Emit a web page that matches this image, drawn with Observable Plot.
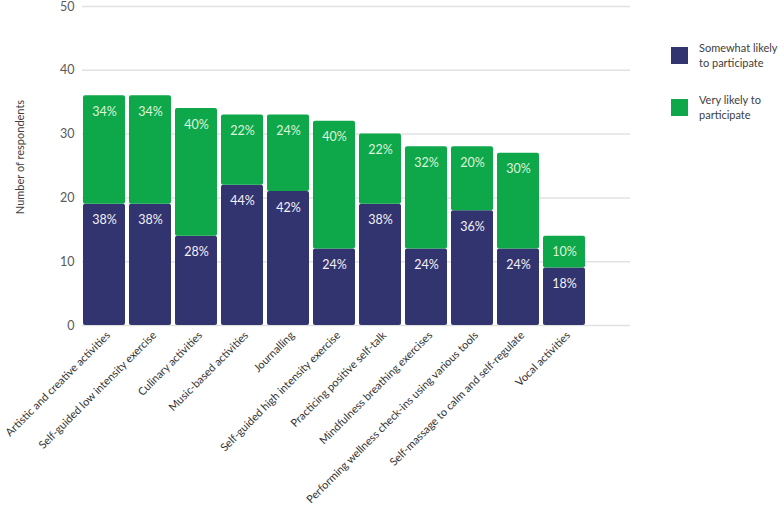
<!DOCTYPE html>
<html>
<head>
<meta charset="utf-8">
<script src="https://cdn.jsdelivr.net/npm/d3@7"></script>
<script src="https://cdn.jsdelivr.net/npm/@observablehq/plot@0.6"></script>
<style>
  body { margin: 0; background: #fff; font-family: Lato, "Open Sans", sans-serif; }
  #wrap { position: relative; width: 778px; height: 518px; }
  #legend { position: absolute; left: 671px; top: 40px; font-size: 11px; color: #404040; line-height: 15px; }
  .item { display: flex; align-items: center; margin-bottom: 22px; }
  .sw { width: 17px; height: 17px; margin-right: 11px; flex: none; }
</style>
</head>
<body>
<div id="wrap">
  <div id="chart"></div>
  <div id="legend"></div>
</div>
<script>
const activities = [
  "Artistic and creative activities",
  "Self-guided low intensity exercise",
  "Culinary activities",
  "Music-based activities",
  "Journalling",
  "Self-guided high intensity exercise",
  "Practicing positive self-talk",
  "Mindfulness breathing exercises",
  "Performing wellness check-ins using various tools",
  "Self-massage to calm and self-regulate",
  "Vocal activities"
];
const somewhat = [19, 19, 14, 22, 21, 12, 19, 12, 18, 12, 9];
const very = [17, 17, 20, 11, 12, 20, 11, 16, 10, 15, 5];
const somewhatPct = ["38%", "38%", "28%", "44%", "42%", "24%", "38%", "24%", "36%", "24%", "18%"];
const veryPct = ["34%", "34%", "40%", "22%", "24%", "40%", "22%", "32%", "20%", "30%", "10%"];
const seriesNames = ["Somewhat likely to participate", "Very likely to participate"];
const seriesLegend = [["Somewhat likely", "to participate"], ["Very likely to", "participate"]];
const colors = ["#32346f", "#0ea84b"];
const labelColors = ["#f2f2f7", "#dcf5dc"];
const yTicks = [0, 10, 20, 30, 40, 50];
const yTitle = "Number of respondents";

const data = [];
activities.forEach((a, i) => {
  data.push({activity: a, series: seriesNames[0], value: somewhat[i], label: somewhatPct[i]});
  data.push({activity: a, series: seriesNames[1], value: very[i], label: veryPct[i]});
});

const chart = Plot.plot({
  width: 778,
  height: 518,
  marginLeft: 82,
  marginRight: 148,
  marginTop: 6,
  marginBottom: 193,
  style: {fontFamily: "Lato, 'Open Sans', sans-serif", background: "#fff", overflow: "visible"},
  x: {type: "band", domain: activities, range: [81, 587], paddingInner: 4/46, paddingOuter: 2/46},
  y: {domain: [0, 50]},
  color: {domain: seriesNames, range: colors},
  marks: [
    Plot.ruleY(yTicks, {stroke: "#e2e2e2", strokeWidth: 1.5}),
    Plot.barY(data, {x: "activity", y: "value", fill: "series", order: seriesNames, rx: 2}),
    Plot.text(data, Plot.stackY2({x: "activity", y: "value", z: "series", order: seriesNames, text: "label",
      fill: d => labelColors[seriesNames.indexOf(d.series)], dy: 16, fontSize: 12.5})),
    Plot.axisY({ticks: yTicks, tickSize: 0, tickPadding: 8, fontSize: 12.5, color: "#595959", label: null}),
    Plot.text([yTitle], {text: d => d, frameAnchor: "left", textAnchor: "middle", rotate: -90, dx: -62, dy: -9, fontSize: 11, fill: "#404040"}),
    Plot.axisX({tickSize: 0, tickPadding: 8, tickRotate: -45, fontSize: 11, dx: 4, color: "#333", label: null})
  ]
});
document.getElementById("chart").appendChild(chart);

const legend = document.getElementById("legend");
seriesNames.forEach((s, i) => {
  const it = document.createElement("div");
  it.className = "item";
  it.innerHTML = `<div class="sw" style="background:${colors[i]}"></div><div>${seriesLegend[i][0]}<br>${seriesLegend[i][1]}</div>`;
  legend.appendChild(it);
});
</script>
</body>
</html>
